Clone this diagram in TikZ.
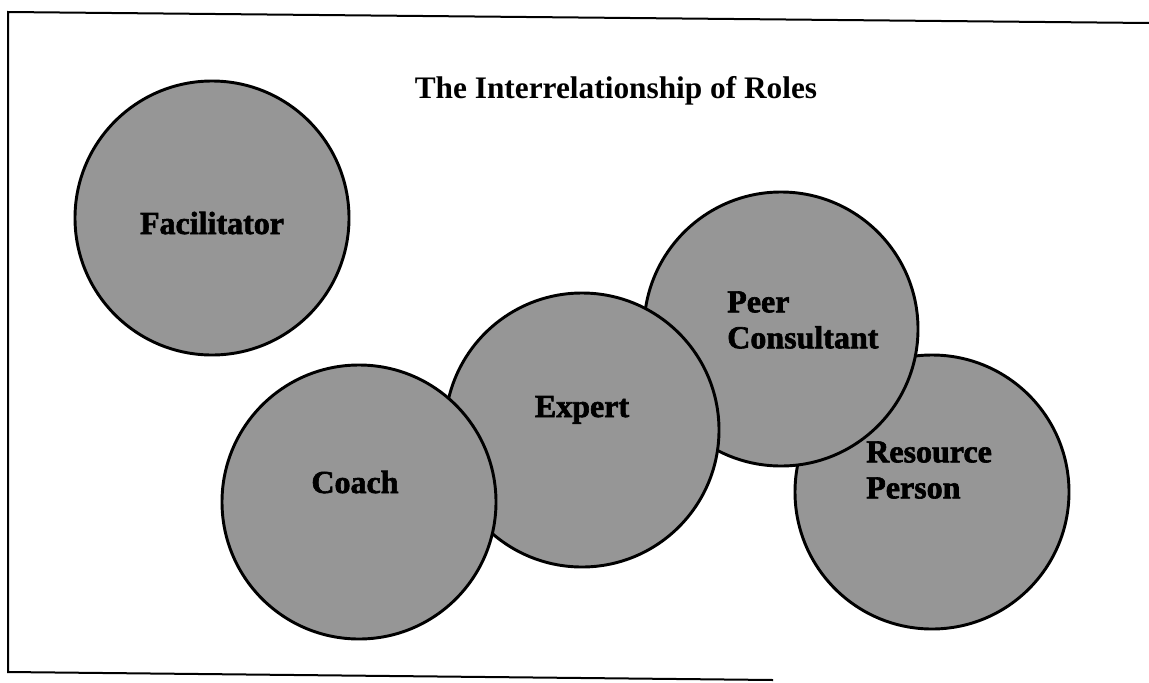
\documentclass[tikz,border=0pt]{standalone}
\usepackage{fontspec}
\setmainfont{Liberation Serif}
\newfontfamily\rolefont{Liberation Serif Bold}[FakeBold=2]

\tikzset{
  role/.style={circle, draw, line width=2.2pt, fill={rgb, 255:red, 150; green, 150; blue, 150 }, minimum size=205.5pt, inner sep=0pt},
  rolelabel/.style={font=\rolefont\fontsize{24}{27}\selectfont, inner sep=0pt},
}

\begin{document}
\begin{tikzpicture}[x=0.75pt,y=0.75pt,yscale=-1,xscale=1]
\useasboundingbox (0,0) rectangle (1149,682);

%Straight Lines: open frame
\coordinate (frametr) at (1149,23);
\coordinate (frametl) at (8,12);
\coordinate (framebl) at (8,672);
\coordinate (framebr) at (773,680);
\draw [line width=1.5pt]   (frametr) -- (frametl) -- (framebl) -- (framebr) ;

%Shape: Circle
\node [role] (facilitator) at (212,218) {};
%Shape: Circle
\node [role] (resource) at (932,492) {};
%Shape: Circle
\node [role] (peer) at (781,329) {};
%Shape: Circle
\node [role] (expert) at (582,430) {};
%Shape: Circle
\node [role] (coach) at (359,502) {};

% Text Node
\node [font=\bfseries\fontsize{23.5}{28}\selectfont, anchor=base, inner sep=0pt] (title) at (616,98) {The Interrelationship of Roles};
% Text Node
\node [rolelabel, anchor=base] (facilitatorlabel) at (212,234) {Facilitator};
% Text Node
\node [rolelabel, anchor=base] (coachlabel) at (355,493) {Coach};
% Text Node
\node [rolelabel, anchor=base] (expertlabel) at (582,417) {Expert};
% Text Node
\node [rolelabel, anchor=west, align=left] (peerlabel) at (727,320) {Peer\\Consultant};
% Text Node
\node [rolelabel, anchor=west, align=left] (resourcelabel) at (866,470) {Resource\\Person};

\end{tikzpicture}
\end{document}
